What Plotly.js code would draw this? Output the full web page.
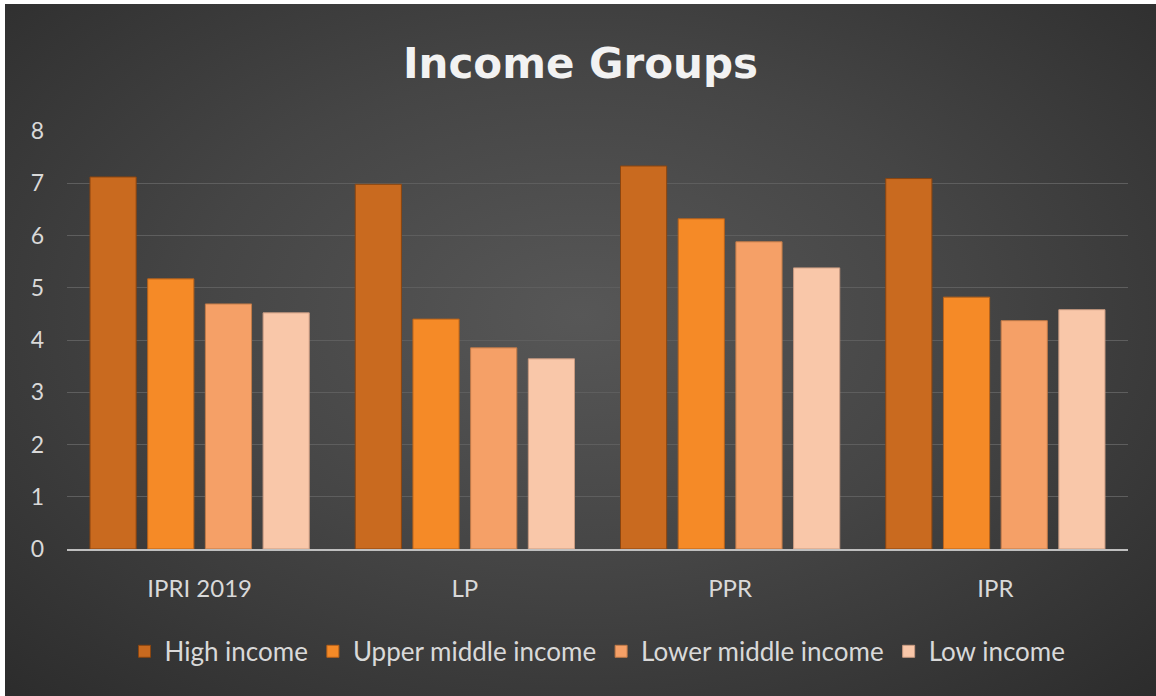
<!DOCTYPE html>
<html>
<head>
<meta charset="utf-8">
<script src="https://cdn.plot.ly/plotly-3.0.1.min.js"></script>
<style>
	body { margin: 0; background: #ffffff; }
	#chart {
		position: absolute; left: 5px; top: 4px; width: 1151px; height: 692px;
		background: radial-gradient(ellipse 75% 80% at 50% 45%, #575757 0%, #454545 45%, #2a2a2a 100%);
	}
</style>
</head>
<body>
<div id="chart"></div>
<script>
// categories and series
var groups = ['IPRI 2019', 'LP', 'PPR', 'IPR'];
var highIncome = [7.12, 6.98, 7.33, 7.09];
var upperMiddle = [5.17, 4.40, 6.32, 4.82];
var lowerMiddle = [4.69, 3.85, 5.88, 4.37];
var lowIncome = [4.52, 3.64, 5.38, 4.58];
var seriesNames = ['High income', 'Upper middle income', 'Lower middle income', 'Low income'];
var seriesColors = ['#C96A1F', '#F58A27', '#F5A067', '#F9C7A9'];
var edgeColors = ['#8a4510', '#b8621a', '#c07a48', '#c89a80'];

function makeTrace(i, vals){
	return {
		x: groups,
		y: vals,
		name: seriesNames[i],
		type: 'bar',
		marker: { color: seriesColors[i], line: { color: edgeColors[i], width: 1 } },
		hoverinfo: 'x+y+name'
	};
}

var data = [
	makeTrace(0, highIncome),
	makeTrace(1, upperMiddle),
	makeTrace(2, lowerMiddle),
	makeTrace(3, lowIncome)
];

var layout = {
	width: 1151,
	height: 692,
	paper_bgcolor: 'rgba(0,0,0,0)',
	plot_bgcolor: 'rgba(0,0,0,0)',
	margin: { l: 62, r: 28, t: 127, b: 147 },
	barmode: 'group',
	bargap: 0.13,
	bargroupgap: 0.2,
	title: {
		text: 'Income Groups',
		font: { family: 'DejaVu Sans', size: 42, color: '#f2f2f2', weight: 'bold' },
		x: 0.5, xanchor: 'center',
		y: 0.915, yanchor: 'middle'
	},
	font: { family: 'Lato, "Open Sans", sans-serif', color: '#d9d9d9', size: 23 },
	xaxis: {
		showgrid: false,
		showline: true,
		linecolor: '#bfbfbf',
		linewidth: 2,
		ticks: '',
		ticklabelstandoff: 17,
		tickfont: { size: 24, color: '#d9d9d9' }
	},
	yaxis: {
		range: [0, 8],
		dtick: 1,
		showgrid: true,
		gridcolor: '#5e5e5e',
		gridwidth: 1,
		zeroline: false,
		showline: false,
		ticks: '',
		ticklabelstandoff: 22,
		tickfont: { size: 23, color: '#d9d9d9' }
	},
	showlegend: true,
	legend: {
		orientation: 'h',
		x: 0.5, xanchor: 'center',
		y: -0.245, yanchor: 'middle',
		font: { size: 26, color: '#d9d9d9' },
		itemwidth: 30,
		traceorder: 'normal'
	}
};

Plotly.newPlot('chart', data, layout, { displayModeBar: false, staticPlot: true });
</script>
</body>
</html>
